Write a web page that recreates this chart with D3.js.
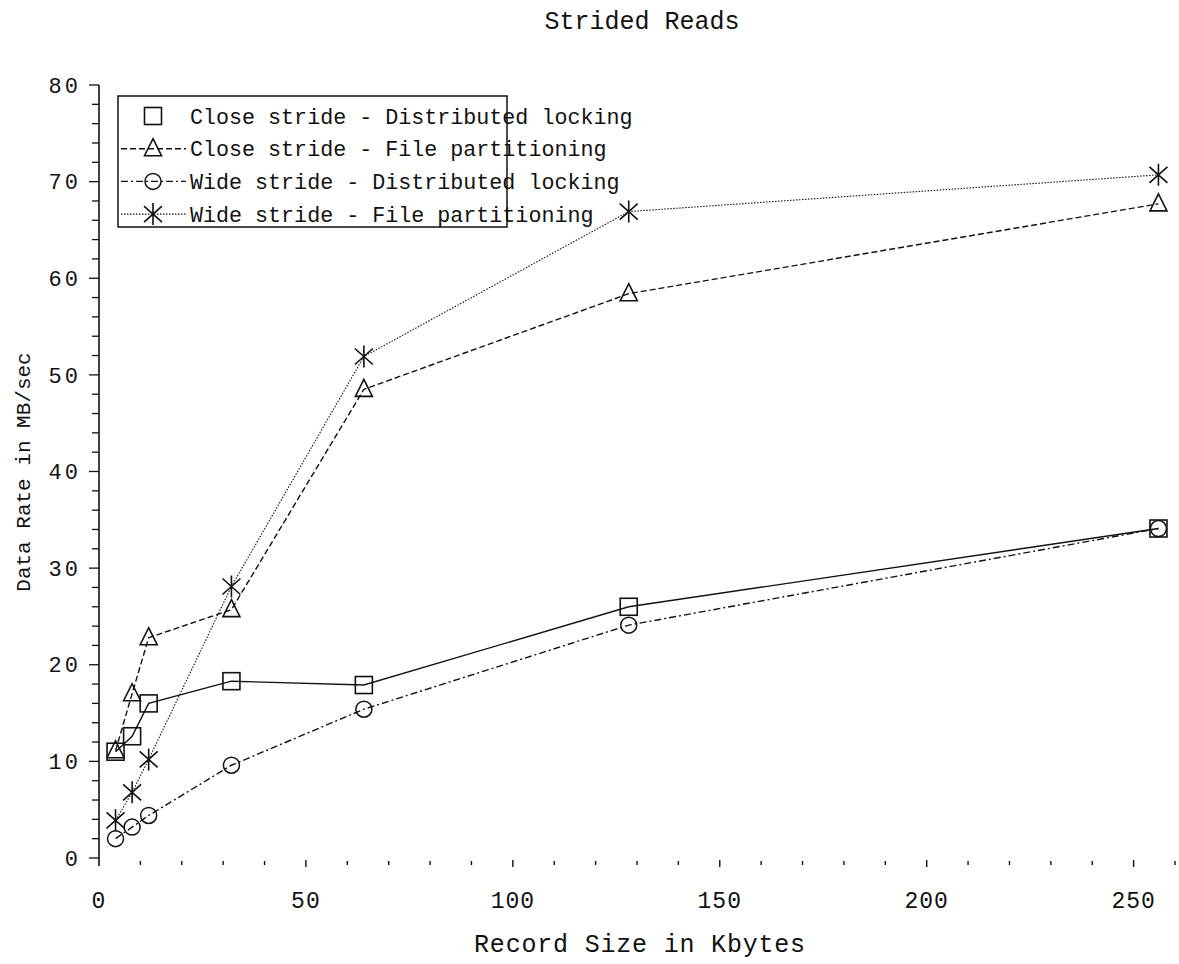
<!DOCTYPE html>
<html>
<head>
<meta charset="utf-8">
<script src="https://cdn.jsdelivr.net/npm/d3@7"></script>
<style>
  body { margin: 0; background: #fff; }
  text { font-family: "Liberation Mono", "DejaVu Sans Mono", monospace; fill: #111; }
</style>
</head>
<body>
<div id="chart"></div>
<script>
// record sizes (Kbytes)
const recordSizes = [4, 8, 12, 32, 64, 128, 256];

// data rates (MB/sec) per series
const closeDistributed = [11.0, 12.6, 16.0, 18.3, 17.9, 26.0, 34.1];
const closePartitioning = [11.1, 17.0, 22.8, 25.7, 48.5, 58.4, 67.7];
const wideDistributed = [2.0, 3.2, 4.4, 9.6, 15.4, 24.1, 34.1];
const widePartitioning = [3.9, 6.8, 10.2, 28.1, 51.9, 66.9, 70.7];

const seriesNames = [
    "Close stride - Distributed locking",
    "Close stride - File partitioning",
    "Wide stride - Distributed locking",
    "Wide stride - File partitioning"
];

const xTicks = [0, 50, 100, 150, 200, 250];
const yTicks = [0, 10, 20, 30, 40, 50, 60, 70, 80];

const width = 1179, height = 964;

const x = d3.scaleLinear().domain([0, 260]).range([99, 1175]);
const y = d3.scaleLinear().domain([0, 80]).range([858, 85]);

const svg = d3.select("#chart")
    .append("svg")
    .attr("width", width)
    .attr("height", height);

const series = [
    { name: seriesNames[0], values: closeDistributed, symbol: "square", dash: null, legendLine: false },
    { name: seriesNames[1], values: closePartitioning, symbol: "triangle", dash: "6,3", legendLine: true },
    { name: seriesNames[2], values: wideDistributed, symbol: "circle", dash: "7,3,2,3", legendLine: true },
    { name: seriesNames[3], values: widePartitioning, symbol: "star", dash: "1.5,1.5", legendLine: true }
];

// marker drawing
const drawMarker = (g, symbol, cx, cy) => {
    if (symbol === "square") {
        g.append("rect")
            .attr("x", cx - 8.5).attr("y", cy - 8.5)
            .attr("width", 17).attr("height", 17)
            .attr("fill", "none").attr("stroke", "#111").attr("stroke-width", 1.6);
    } else if (symbol === "triangle") {
        g.append("path")
            .attr("d", `M${cx},${cy - 10}L${cx + 8.5},${cy + 7}L${cx - 8.5},${cy + 7}Z`)
            .attr("fill", "none").attr("stroke", "#111").attr("stroke-width", 1.6);
    } else if (symbol === "circle") {
        g.append("circle")
            .attr("cx", cx).attr("cy", cy).attr("r", 8)
            .attr("fill", "none").attr("stroke", "#111").attr("stroke-width", 1.5);
    } else {
        g.append("path")
            .attr("d", `M${cx},${cy - 11}L${cx},${cy + 11}M${cx - 9},${cy - 8}L${cx + 9},${cy + 8}M${cx + 9},${cy - 8}L${cx - 9},${cy + 8}`)
            .attr("fill", "none").attr("stroke", "#111").attr("stroke-width", 1.6);
    }
};

// y axis line and ticks
const axisGroup = svg.append("g").attr("class", "axes");

axisGroup.append("line")
    .attr("x1", x(0)).attr("x2", x(0))
    .attr("y1", y(80)).attr("y2", 866)
    .attr("stroke", "#111").attr("stroke-width", 1.6);

d3.range(0, 81, 2).forEach((v) => {
    const major = v % 10 === 0;
    axisGroup.append("line")
        .attr("x1", x(0) - (major ? 10 : 7)).attr("x2", x(0))
        .attr("y1", y(v)).attr("y2", y(v))
        .attr("stroke", "#111").attr("stroke-width", 1.3);
});

axisGroup.selectAll(".y-label")
    .data(yTicks)
    .enter()
    .append("text")
    .attr("class", "y-label")
    .attr("x", 81)
    .attr("y", (d) => y(d))
    .attr("dy", "0.35em")
    .attr("text-anchor", "end")
    .attr("font-size", 22)
    .attr("letter-spacing", 3)
    .text((d) => d);

// x axis: ticks only, no baseline
d3.range(10, 261, 10).forEach((v) => {
    const major = v % 50 === 0;
    axisGroup.append("line")
        .attr("x1", x(v)).attr("x2", x(v))
        .attr("y1", major ? 860 : 861).attr("y2", major ? 867 : 865)
        .attr("stroke", "#111").attr("stroke-width", 1.4);
});

axisGroup.selectAll(".x-label")
    .data(xTicks)
    .enter()
    .append("text")
    .attr("class", "x-label")
    .attr("x", (d) => x(d))
    .attr("y", 908)
    .attr("text-anchor", "middle")
    .attr("font-size", 23)
    .attr("letter-spacing", 1)
    .text((d) => d);

// titles
svg.append("text")
    .attr("x", 642).attr("y", 29)
    .attr("text-anchor", "middle")
    .attr("font-size", 25)
    .text("Strided Reads");

svg.append("text")
    .attr("x", 640).attr("y", 952)
    .attr("text-anchor", "middle")
    .attr("font-size", 25)
    .attr("letter-spacing", 0.8)
    .text("Record Size in Kbytes");

svg.append("text")
    .attr("transform", "translate(30, 472) rotate(-90)")
    .attr("text-anchor", "middle")
    .attr("font-size", 21)
    .text("Data Rate in MB/sec");

// series lines and markers
const line = d3.line()
    .x((d, i) => x(recordSizes[i]))
    .y((d) => y(d));

const plotGroup = svg.append("g").attr("class", "plot");

series.forEach((s) => {
    plotGroup.append("path")
        .attr("d", line(s.values))
        .attr("fill", "none")
        .attr("stroke", "#111")
        .attr("stroke-width", s.symbol === "star" ? 1.1 : 1.4)
        .attr("stroke-dasharray", s.dash);

    s.values.forEach((v, i) => drawMarker(plotGroup, s.symbol, x(recordSizes[i]), y(v)));
});

// legend
const legend = svg.append("g").attr("class", "legend");

legend.append("rect")
    .attr("x", 118).attr("y", 96)
    .attr("width", 389).attr("height", 131)
    .attr("fill", "#fff")
    .attr("stroke", "#111").attr("stroke-width", 1.5);

series.forEach((s, i) => {
    const ly = 116 + i * 32.7;
    if (s.legendLine) {
        legend.append("line")
            .attr("x1", 121).attr("x2", 186)
            .attr("y1", ly).attr("y2", ly)
            .attr("stroke", "#111")
            .attr("stroke-width", s.symbol === "star" ? 1.1 : 1.4)
            .attr("stroke-dasharray", s.dash);
    }
    drawMarker(legend, s.symbol, 153, ly);
    legend.append("text")
        .attr("x", 190)
        .attr("y", ly)
        .attr("dy", "0.35em")
        .attr("font-size", 21.7)
        .text(s.name);
});
</script>
</body>
</html>
